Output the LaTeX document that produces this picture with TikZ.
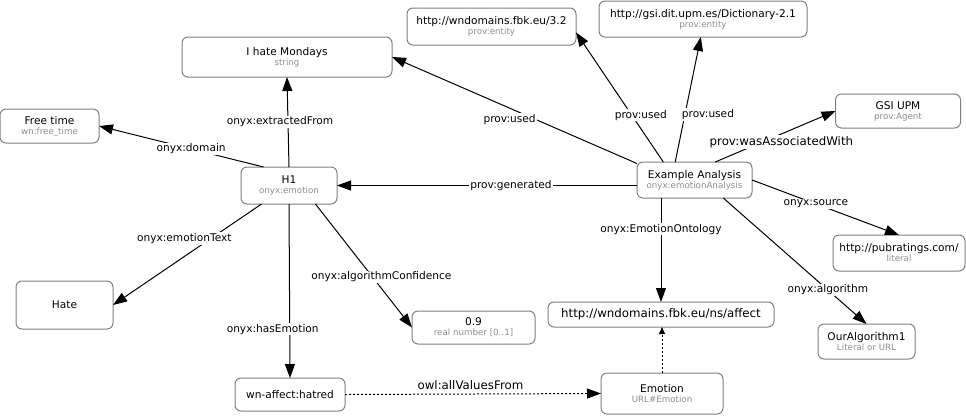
\documentclass[tikz,border=0pt]{standalone}
\usepackage{fontspec}
\setmainfont{DejaVu Sans}
\usetikzlibrary{arrows.meta}
\definecolor{boxgray}{HTML}{808080}
\definecolor{subgray}{HTML}{8C8C8C}
\newcommand{\rdftype}[1]{\\[-1.5pt]{\color{subgray}\fontsize{8.7}{10}\selectfont #1}}
\tikzset{
	every node/.style = {font=\fontsize{10.6}{11.5}\selectfont},
	res/.style = {draw=boxgray, line width=1pt, rounded corners=6pt, align=center, outer sep=0pt, inner sep=2pt},
	dim/.style 2 args = {minimum width=#1pt, minimum height=#2pt},
	rel/.style = {line width=1pt, -{Triangle[length=14pt,width=10pt]}},
	restr/.style = {line width=1pt, dash pattern=on 2pt off 2pt, -{Triangle[length=14pt,width=10pt]}},
	prop/.style = {fill=white, inner sep=1pt},
	bigfont/.style = {font=\fontsize{11.8}{13}\selectfont}
}

\begin{document}
\begin{tikzpicture}[x=1pt, y=-1pt]
	\useasboundingbox (0,0) rectangle (966,416);
	\node[res, dim={210}{40}] (mondays) at (287,57) {I hate Mondays\rdftype{string}};
	\node[res, dim={169}{37}] (wnd32) at (491.5,26.5) {http://wndomains.fbk.eu/3.2\rdftype{prov:entity}};
	\node[res, dim={208}{36}] (gsidict) at (703,19) {http://gsi.dit.upm.es/Dictionary-2.1\rdftype{prov:entity}};
	\node[res, dim={99}{34}] (freetime) at (49.5,126) {Free time\rdftype{wn:free\_time}};
	\node[res, dim={125}{34}] (gsiupm) at (898,111) {GSI UPM\rdftype{prov:Agent}};
	\node[res, dim={115}{36}] (example) at (694.5,180) {Example Analysis\rdftype{onyx:emotionAnalysis}};
	\node[res, dim={96}{37}] (h1) at (289,185.5) {H1\rdftype{onyx:emotion}};
	\node[res, dim={97}{48}] (hate) at (64.5,305) {Hate};
	\node[res, dim={123}{33}] (conf) at (473.5,327.5) {0.9\rdftype{real number [0..1]}};
	\node[res, dim={110}{33}] (hatred) at (290,394.5) {wn-affect:hatred};
	\node[res, dim={226}{25}, bigfont] (affect) at (661,314.5) {http://wndomains.fbk.eu/ns/affect};
	\node[res, dim={122}{41}] (emotion) at (662,393.5) {Emotion\rdftype{URL\#Emotion}};
	\node[res, dim={132}{36}] (pubratings) at (899,253) {http://pubratings.com/\rdftype{literal}};
	\node[res, dim={97}{35}] (algorithm) at (866.5,341.5) {OurAlgorithm1\rdftype{Literal or URL}};

	\draw[rel] (h1.north) -- node[prop, xshift=-8pt] {onyx:extractedFrom} (mondays.south);
	\draw[rel] (h1.144) -- node[prop, pos=0.44] {onyx:domain} (freetime.east);
	\draw[rel] (h1.214) -- node[prop, pos=0.52, yshift=18pt] {onyx:emotionText} (hate.east);
	\draw[rel] (h1.south) -- node[prop, pos=0.72, xshift=-17pt] {onyx:hasEmotion} (hatred.north);
	\draw[rel] (h1.-35) -- node[prop, pos=0.59, xshift=9pt] {onyx:algorithmConfidence} (conf.west);
	\draw[rel] (example.west |- h1.east) -- node[prop, pos=0.42] {prov:generated} (h1.east);
	\draw[rel] (example.164) -- node[prop, pos=0.52, yshift=-11pt] {prov:used} (mondays.east);
	\draw[rel] (example.150) -- node[prop, pos=0.36, xshift=9pt] {prov:used} (wnd32.-4);
	\draw[rel] (example.137) -- node[prop, pos=0.38, xshift=23pt] {prov:used} (gsidict.263);
	\draw[rel] (example.41) -- node[prop, bigfont, pos=0.55, yshift=-8pt] {prov:wasAssociatedWith} (gsiupm.west);
	\draw[rel] (example.south -| affect.north) -- node[prop, pos=0.3] {onyx:EmotionOntology} (affect.north);
	\draw[rel] (example.east) -- node[prop, pos=0.435] {onyx:source} (pubratings.north);
	\draw[rel] (example.-32) -- node[prop, pos=0.73] {onyx:algorithm} (algorithm.north);
	\draw[restr] (hatred.east) -- node[bigfont, pos=0.49, yshift=9pt] {owl:allValuesFrom} (emotion.west);
	\draw[restr, -{Triangle[length=7pt,width=6pt]}] (emotion.north) -- (emotion.north |- affect.south);
\end{tikzpicture}
\end{document}
